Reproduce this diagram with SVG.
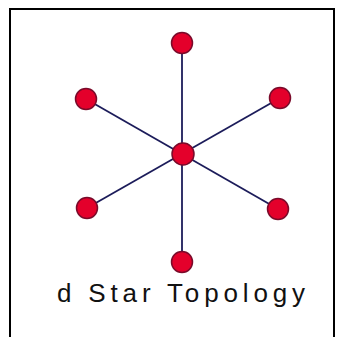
<svg xmlns="http://www.w3.org/2000/svg" width="345" height="337" viewBox="0 0 345 337">
<style>
.frame{fill:none;stroke:#000;stroke-width:2}
.link{stroke:#1c1c5a;stroke-width:1.8;fill:none}
.node{fill:#e4002b;stroke:#7a0a2a;stroke-width:1.5}
.label{font-family:"Liberation Sans",Arial,sans-serif;font-size:26px;fill:#111}
</style>
<rect width="345" height="337" fill="#fff"/>
<path class="frame" d="M10,337 V9 H334 V337"/>
<g id="connectors">
<line class="link" x1="182" y1="43" x2="182" y2="262"/>
<line class="link" x1="86" y1="99" x2="278" y2="209"/>
<line class="link" x1="280" y1="98" x2="87" y2="208"/>
</g>
<g id="n-top"><circle class="node" cx="182" cy="43" r="10.5"/></g>
<g id="n-upleft"><circle class="node" cx="86" cy="99" r="10.5"/></g>
<g id="n-upright"><circle class="node" cx="280" cy="98" r="10.5"/></g>
<g id="n-center"><circle class="node" cx="183" cy="154" r="11"/></g>
<g id="n-lowleft"><circle class="node" cx="87" cy="208" r="10.5"/></g>
<g id="n-lowright"><circle class="node" cx="278" cy="209" r="10.5"/></g>
<g id="n-bottom"><circle class="node" cx="182" cy="262" r="10.5"/></g>
<text class="label" x="57" y="302" textLength="248" lengthAdjust="spacing">d Star Topology</text>
</svg>
